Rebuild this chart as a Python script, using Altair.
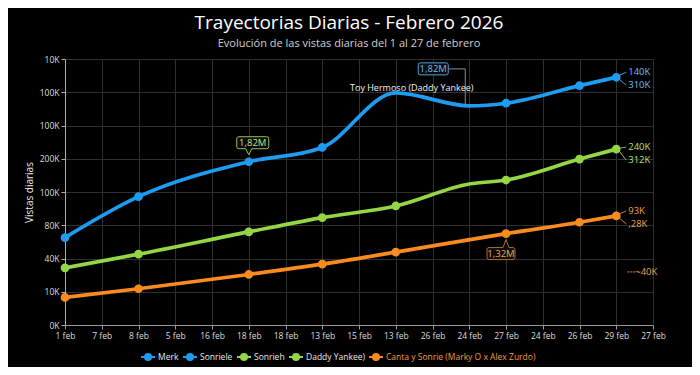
import json
import altair as alt
import pandas as pd

# ---------------- data ----------------
x_labels = ['1 feb', '7 feb', '8 feb', '5 feb', '16 feb', '18 feb', '18 feb', '13 feb', '15 feb',
            '13 feb', '26 feb', '24 feb', '27 feb', '24 feb', '26 feb', '29 feb', '27 feb']
y_labels = ['0K', '10K', '40K', '80K', '100K', '200K', '100K', '100K', '10K']

legend_names = ['Merk', 'Sonriele', 'Sonrieh', 'Daddy Yankee)',
                'Canta y Sonrie (Marky O x Alex Zurdo)']
legend_colors = ['#1e9cf1', '#1e9cf1', '#94d645', '#94d645', '#fa8b1e']

blue_x = [0, 2, 5, 7, 9, 11, 12, 14, 15]
blue_y = [2.63, 3.86, 4.91, 5.34, 6.98, 6.59, 6.67, 7.20, 7.45]
blue_mark = [1, 1, 1, 1, 0, 0, 1, 1, 1]

green_x = [0, 2, 5, 7, 9, 11, 12, 14, 15]
green_y = [1.72, 2.13, 2.80, 3.23, 3.58, 4.24, 4.36, 4.99, 5.29]
green_mark = [1, 1, 1, 1, 1, 0, 1, 1, 1]

orange_x = [0, 2, 5, 7, 9, 12, 14, 15]
orange_y = [0.83, 1.09, 1.52, 1.83, 2.19, 2.75, 3.09, 3.28]
orange_mark = [1, 1, 1, 1, 1, 1, 1, 1]

end_labels_blue = ['140K', '310K']
end_labels_green = ['240K', '312K']
end_labels_orange = ['93K', ',28K']
extra_label_orange = '~40K'

callout_green_text = '1,82M'
callout_blue_text = '1,82M'
callout_orange_text = '1,32M'
peak_text = 'Toy Hermoso (Daddy Yankee)'

# ---------------- tables ----------------
rows = []
for name, xs_, ys_, ms in [('Merk', blue_x, blue_y, blue_mark),
                           ('Sonrieh', green_x, green_y, green_mark),
                           ('Canta y Sonrie (Marky O x Alex Zurdo)', orange_x, orange_y, orange_mark)]:
    for x, y, m in zip(xs_, ys_, ms):
        rows.append({'serie': name, 'x': x, 'y': y, 'm': m})
df = pd.DataFrame(rows)

FONT = 'Open Sans'
xs = alt.Scale(domain=[0, 16], nice=False, zero=False)
ys = alt.Scale(domain=[0, 8], nice=False, zero=False)
col_scale = alt.Scale(domain=legend_names, range=legend_colors)

x_expr = json.dumps(x_labels) + '[datum.value]'
y_expr = json.dumps(y_labels) + '[datum.value]'

X = alt.X('x:Q', scale=xs, axis=alt.Axis(
    values=list(range(17)), tickCount=17, labelExpr=x_expr, title=None, grid=True,
    gridColor='#2f2f2f', gridWidth=1, domainColor='#9a9a9a', tickColor='#9a9a9a',
    tickSize=4, labelColor='#dddddd', labelFontSize=8.5, labelPadding=2, labelFont=FONT,
    labelFlush=False, labelOverlap=False))
Y = alt.Y('y:Q', scale=ys, axis=alt.Axis(
    values=list(range(9)), tickCount=9, labelExpr=y_expr, title='Vistas diarias', grid=True,
    gridColor='#2f2f2f', gridWidth=1, domainColor='#b0b0b0', tickColor='#b0b0b0',
    tickSize=4, labelColor='#dddddd', labelFontSize=8.5, labelPadding=2, labelFont=FONT,
    titleColor='#eeeeee', titleFont=FONT, titleFontSize=10, titleFontWeight='normal',
    titlePadding=5, labelFlush=False, labelOverlap=False))

legend_sym = 'M-1.4,0H1.4M-0.6,0A0.6,0.6 0 1,1 0.6,0A0.6,0.6 0 1,1 -0.6,0Z'
last_name = legend_names[-1]
legend = alt.Legend(
    title=None, orient='none', legendX=77, legendY=292, direction='horizontal', columns=5,
    symbolType=legend_sym, symbolSize=100, symbolStrokeWidth=2, columnPadding=0,
    labelFont=FONT, labelFontSize=8.5, labelOffset=4,
    labelColor=alt.ExprRef(expr=f"datum.label == '{last_name}' ? '#f59a3a' : '#e8e8e8'"))

lines = alt.Chart(df).mark_line(interpolate='monotone', strokeWidth=3.7).encode(
    x=X, y=Y,
    stroke=alt.Stroke('serie:N', scale=col_scale, legend=legend),
    detail='serie:N')

pts = alt.Chart(df).transform_filter('datum.m == 1').mark_point(
    filled=True, size=45, opacity=1).encode(
    x='x:Q', y='y:Q',
    fill=alt.Fill('serie:N', scale=col_scale, legend=legend),
    stroke=alt.Stroke('serie:N', scale=col_scale, legend=legend))

# ---- callouts ----
def anchor(series, idx):
    sx, sy = {'b': (blue_x, blue_y), 'g': (green_x, green_y), 'o': (orange_x, orange_y)}[series]
    i = sx.index(idx)
    return pd.DataFrame([{'x': sx[i], 'y': sy[i]}])

g_anchor = anchor('b', 5)
g_box = alt.Chart(g_anchor).mark_point(
    shape='M-10,-25H18Q20,-25 20,-23V-15Q20,-13 18,-13H3L0,-7L-3,-13H-10Q-12,-13 -12,-15V-23Q-12,-25 -10,-25Z',
    size=4, filled=True, fill='#0b0b0b', stroke='#97c060', strokeWidth=1, opacity=1).encode(x='x:Q', y='y:Q')
g_txt = alt.Chart(g_anchor).mark_text(
    text=callout_green_text, dx=4, dy=-19, color='#bfe38a', fontSize=9.5, font=FONT).encode(x='x:Q', y='y:Q')

b_anchor = anchor('b', 11)
b_box = alt.Chart(b_anchor).mark_point(
    shape='M-49,-43H-23Q-21,-43 -21,-41V-33Q-21,-31 -23,-31H-49Q-51,-31 -51,-33V-41Q-51,-43 -49,-43Z',
    size=4, filled=True, fill='#0b0b0b', stroke='#4f9fd8', strokeWidth=1, opacity=1).encode(x='x:Q', y='y:Q')
b_conn = alt.Chart(b_anchor).mark_point(
    shape='M-21,-37H-4V-2', size=4, filled=False, stroke='#8a8a8a', strokeWidth=1, opacity=1).encode(x='x:Q', y='y:Q')
b_txt = alt.Chart(b_anchor).mark_text(
    text=callout_blue_text, dx=-36, dy=-37, color='#6cbcf5', fontSize=9.5, font=FONT).encode(x='x:Q', y='y:Q')

o_anchor = anchor('o', 12)
o_box = alt.Chart(o_anchor).mark_point(
    shape='M-17,14H-3L0,6L3,14H7Q9,14 9,16V24Q9,26 7,26H-17Q-19,26 -19,24V16Q-19,14 -17,14Z',
    size=4, filled=True, fill='#0b0b0b', stroke='#a8713a', strokeWidth=1, opacity=1).encode(x='x:Q', y='y:Q')
o_txt = alt.Chart(o_anchor).mark_text(
    text=callout_orange_text, dx=-5, dy=20, color='#f0a55a', fontSize=9.5, font=FONT).encode(x='x:Q', y='y:Q')

peak_anchor = anchor('b', 9)
peak_txt = alt.Chart(peak_anchor).mark_text(
    text=peak_text, dx=16, dy=-5, color='#f2f2f2', fontSize=9, font=FONT).encode(x='x:Q', y='y:Q')

# ---- end labels ----
def end_layer(series, labels, dys, color, path):
    a = anchor(series, 15)
    layers = [alt.Chart(a).mark_point(shape=path, size=4, filled=False, stroke=color,
                                      strokeWidth=1, opacity=0.8).encode(x='x:Q', y='y:Q')]
    for t, dy in zip(labels, dys):
        layers.append(alt.Chart(a).mark_text(text=t, align='left', dx=12, dy=dy, color=color,
                                             fontSize=9.5, font=FONT).encode(x='x:Q', y='y:Q'))
    return layers

end_b = end_layer('b', end_labels_blue, [-5, 8], '#6cbcf5', 'M3,-2L10,-5M3,2L10,8')
end_g = end_layer('g', end_labels_green, [-2, 11], '#b5e07a', 'M4,-1L10,-2M3,2L10,11')
end_o = end_layer('o', end_labels_orange, [-5, 8], '#f2a055', 'M3,-2L10,-5M3,2L10,8')
o_end = anchor('o', 15)
extra = [
    alt.Chart(o_end).mark_point(shape='M11,56H19', size=4, filled=False, stroke='#d98a3a',
                                strokeWidth=1, strokeDash=[2, 1], opacity=1).encode(x='x:Q', y='y:Q'),
    alt.Chart(o_end).mark_text(text=extra_label_orange, align='left', dx=19, dy=56, color='#f2a055',
                               fontSize=9.5, font=FONT).encode(x='x:Q', y='y:Q'),
]

chart = alt.layer(
    lines, pts, b_conn, g_box, g_txt, b_box, b_txt, o_box, o_txt, peak_txt,
    *end_b, *end_g, *end_o, *extra
).resolve_legend(fill='shared', stroke='shared').properties(
    width=588, height=266,
    autosize=alt.AutoSizeParams(type='none'),
    padding={'left': 57, 'top': 51, 'right': 39, 'bottom': 42},
    title=alt.TitleParams(
        text='Trayectorias Diarias - Febrero 2026',
        subtitle='Evolución de las vistas diarias del 1 al 27 de febrero',
        anchor='middle', dx=-10, offset=6, font=FONT, fontSize=19, fontWeight=500, color='#ffffff',
        subtitleFont=FONT, subtitleFontSize=11, subtitleColor='#d0d0d0', subtitlePadding=5),
).configure(background='#000000').configure_view(stroke=None)

chart.save('out.html', embed_options={'renderer': 'svg', 'actions': False})
